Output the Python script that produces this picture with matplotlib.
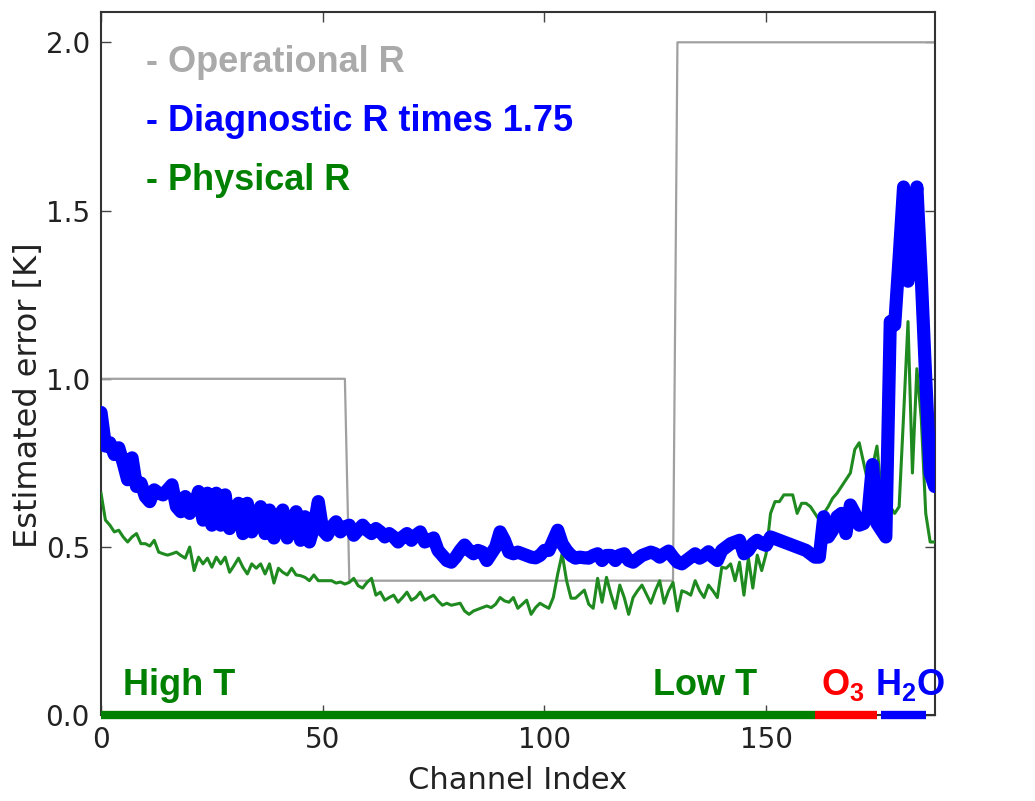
import numpy as np
import matplotlib
matplotlib.use("Agg")
import matplotlib.pyplot as plt

plt.rcParams['mathtext.fontset'] = 'custom'
plt.rcParams['mathtext.bf'] = 'Liberation Sans:bold'
plt.rcParams['mathtext.rm'] = 'Liberation Sans:bold'
plt.rcParams['mathtext.default'] = 'bf'

# estimated errors per channel
diag_r = [
    0.90, 0.80, 0.81, 0.775, 0.795, 0.75, 0.70, 0.765, 0.68, 0.69,
    0.65, 0.635, 0.67, 0.66, 0.655, 0.67, 0.685, 0.62, 0.605, 0.65,
    0.60, 0.62, 0.665, 0.58, 0.66, 0.565, 0.66, 0.565, 0.655, 0.555,
    0.60, 0.63, 0.54, 0.63, 0.545, 0.58, 0.62, 0.54, 0.61, 0.527,
    0.59, 0.61, 0.527, 0.57, 0.605, 0.52, 0.59, 0.515, 0.56, 0.635,
    0.55, 0.535, 0.56, 0.575, 0.545, 0.56, 0.565, 0.535, 0.55, 0.565,
    0.55, 0.54, 0.555, 0.545, 0.53, 0.54, 0.53, 0.515, 0.53, 0.54,
    0.52, 0.535, 0.545, 0.515, 0.52, 0.527, 0.49, 0.475, 0.46, 0.455,
    0.47, 0.49, 0.506, 0.49, 0.48, 0.49, 0.485, 0.46, 0.48, 0.50,
    0.545, 0.52, 0.485, 0.48, 0.485, 0.48, 0.475, 0.47, 0.468, 0.475,
    0.49, 0.49, 0.52, 0.55, 0.51, 0.49, 0.475, 0.467, 0.47, 0.468,
    0.467, 0.475, 0.48, 0.46, 0.475, 0.475, 0.46, 0.476, 0.48, 0.46,
    0.455, 0.465, 0.475, 0.48, 0.485, 0.48, 0.47, 0.48, 0.488, 0.47,
    0.455, 0.45, 0.46, 0.47, 0.48, 0.467, 0.475, 0.486, 0.47, 0.46,
    0.49, 0.50, 0.51, 0.515, 0.52, 0.48, 0.49, 0.51, 0.52, 0.51,
    0.505, 0.53, 0.525, 0.52, 0.515, 0.51, 0.505, 0.50, 0.495, 0.49,
    0.48, 0.47, 0.47, 0.59, 0.53, 0.55, 0.59, 0.60, 0.54, 0.625,
    0.60, 0.565, 0.57, 0.60, 0.745, 0.57, 0.55, 0.53, 1.17, 1.16,
    1.36, 1.57, 1.29, 1.45, 1.57, 1.30, 1.00, 0.72, 0.68,
]

phys_r = [
    0.66, 0.58, 0.565, 0.545, 0.55, 0.53, 0.515, 0.53, 0.54, 0.51,
    0.51, 0.503, 0.52, 0.485, 0.48, 0.476, 0.48, 0.485, 0.475, 0.467,
    0.50, 0.43, 0.47, 0.45, 0.467, 0.44, 0.47, 0.45, 0.47, 0.425,
    0.445, 0.467, 0.44, 0.42, 0.45, 0.437, 0.45, 0.42, 0.45, 0.393,
    0.437, 0.425, 0.417, 0.437, 0.417, 0.415, 0.41, 0.40, 0.417, 0.40,
    0.40, 0.40, 0.40, 0.393, 0.396, 0.39, 0.395, 0.407, 0.385, 0.378,
    0.395, 0.407, 0.357, 0.366, 0.342, 0.35, 0.357, 0.336, 0.35, 0.366,
    0.342, 0.35, 0.366, 0.342, 0.35, 0.357, 0.34, 0.327, 0.333, 0.327,
    0.33, 0.333, 0.31, 0.30, 0.31, 0.315, 0.32, 0.325, 0.32, 0.33,
    0.35, 0.34, 0.336, 0.35, 0.318, 0.33, 0.342, 0.30, 0.32, 0.333,
    0.325, 0.318, 0.35, 0.42, 0.48, 0.40, 0.348, 0.348, 0.36, 0.372,
    0.33, 0.318, 0.407, 0.336, 0.41, 0.36, 0.318, 0.387, 0.35, 0.30,
    0.35, 0.37, 0.387, 0.36, 0.333, 0.37, 0.40, 0.333, 0.37, 0.395,
    0.31, 0.37, 0.365, 0.357, 0.40, 0.37, 0.35, 0.387, 0.37, 0.35,
    0.44, 0.437, 0.45, 0.40, 0.455, 0.357, 0.467, 0.378, 0.476, 0.43,
    0.48, 0.60, 0.635, 0.635, 0.655, 0.655, 0.655, 0.60, 0.63, 0.63,
    0.62, 0.60, 0.58, 0.60, 0.62, 0.645, 0.66, 0.68, 0.70, 0.72,
    0.79, 0.81, 0.75, 0.69, 0.74, 0.80, 0.66, 0.69, 0.62, 0.60,
    0.62, 0.89, 1.17, 0.72, 1.03, 0.88, 0.60, 0.515, 0.515,
]

# operational R: constant per channel block
op_levels = [1.0, 0.4, 2.0]
op_block_start = [0, 56, 130]

# channel groups along the bottom axis: (start, end, colour)
bands = [(0, 161, '#008000'), (161, 175, '#ff0000'), (176, 186, '#0000ff')]

chan = np.arange(len(diag_r))
op_r = np.array(op_levels)[np.searchsorted(op_block_start, chan, side='right') - 1]

fig = plt.figure(figsize=(10.35, 8.01), dpi=100)
ax = fig.add_axes([0.0976, 0.107, 0.8054, 0.878])

ax.plot(chan, op_r, color='#a0a0a0', lw=1.6, zorder=2)
ax.plot(chan, phys_r, color='#1f8a1f', lw=2.2, zorder=3)
ax.plot(chan, diag_r, color='#0000ff', lw=9.5, zorder=4,
        solid_joinstyle='round', solid_capstyle='round')

for x0, x1, c in bands:
    ax.plot([x0, x1], [0, 0], color=c, lw=6, solid_capstyle='butt',
            clip_on=False, zorder=6)

ax.set_xlim(0, len(chan) - 1)
ax.set_ylim(0, 2.09)
ax.set_xticks([0, 50, 100, 150])
ax.set_yticks([0.0, 0.5, 1.0, 1.5, 2.0])
ax.set_yticklabels(['0.0', '0.5', '1.0', '1.5', '2.0'])
ax.tick_params(direction='in', top=True, right=True, length=7, width=1,
               labelsize=20, labelcolor='#222222', color='#444444', pad=8)
for sp in ax.spines.values():
    sp.set_color('#333333')
    sp.set_linewidth(1.5)

ax.set_xlabel('Channel Index', fontsize=22, color='#222222', labelpad=8)
ax.set_ylabel('Estimated error [K]', fontsize=23, color='#222222')
ax.yaxis.set_label_coords(-0.068, 0.455)

bold = dict(family='Liberation Sans', fontweight='bold', fontsize=26)
ax.text(10.2, 1.94, '- Operational R', color='#aaaaaa', va='center', **bold)
ax.text(10.2, 1.765, '- Diagnostic R times 1.75', color='#0000ff', va='center', **bold)
ax.text(10.2, 1.59, '- Physical R', color='#008000', va='center', **bold)

ax.text(5, 0.06, 'High T', color='#008000', va='baseline', **bold)
ax.text(124.4, 0.06, 'Low T', color='#008000', va='baseline', **bold)
ax.text(162.3, 0.06, r'O$_3$', color='#ff0000', va='baseline', **bold)
ax.text(174.5, 0.06, r'H$_2$O', color='#0000ff', va='baseline', **bold)

fig.savefig('out.png', dpi=100)
